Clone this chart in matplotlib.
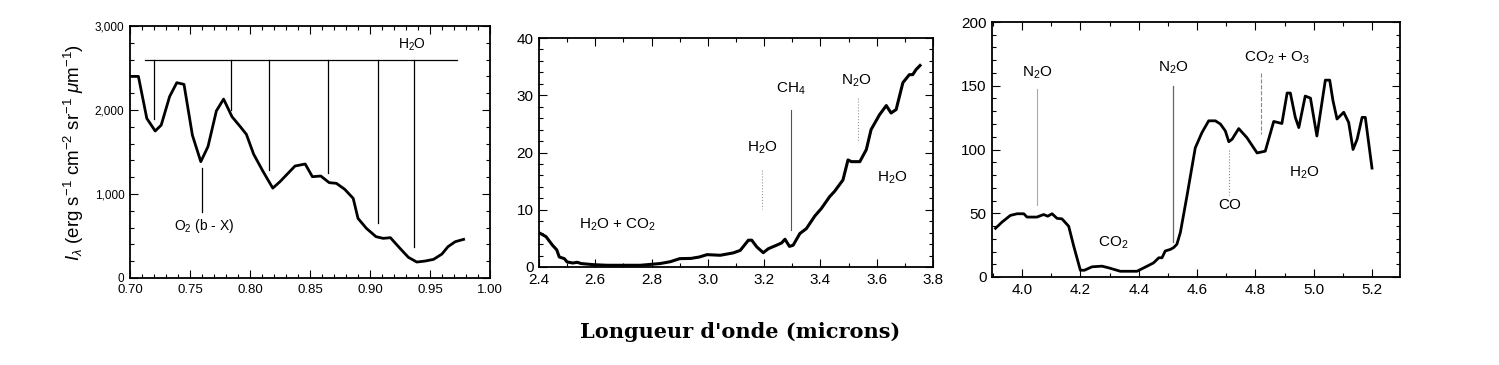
import matplotlib
matplotlib.use("Agg")
import matplotlib.pyplot as plt
from matplotlib.ticker import MultipleLocator, FuncFormatter

plt.rcParams['font.family'] = ['Liberation Sans', 'DejaVu Sans']
plt.rcParams['mathtext.fontset'] = 'custom'
plt.rcParams['mathtext.rm'] = 'Liberation Sans'
plt.rcParams['mathtext.it'] = 'Liberation Sans:italic'

# ---------------- Panel 1: 0.70 - 1.00 micron ----------------
wl1 = [0.700, 0.707, 0.714, 0.721, 0.726, 0.733, 0.739, 0.745, 0.752, 0.759,
       0.765, 0.772, 0.778, 0.785, 0.792, 0.797, 0.803, 0.811, 0.819, 0.825,
       0.8375, 0.846, 0.852, 0.859, 0.866, 0.872, 0.879, 0.886, 0.890, 0.897,
       0.905, 0.911, 0.917, 0.925, 0.932, 0.939, 0.946, 0.953, 0.960, 0.965,
       0.971, 0.978]
I1 = [2400, 2400, 1900, 1750, 1820, 2160, 2325, 2305, 1700, 1385,
      1565, 1990, 2130, 1920, 1800, 1710, 1475, 1265, 1070, 1147,
      1333, 1357, 1206, 1214, 1135, 1127, 1055, 948, 710, 591,
      492, 472, 480, 353, 246, 190, 202, 222, 286, 373,
      432, 460]
h2o_bar_y = 2600
h2o_bar_x = [0.7125, 0.9722]
h2o_lines_x = [0.720, 0.7844, 0.816, 0.8653, 0.9064, 0.9369]
h2o_lines_bottom = [1890, 2000, 1286, 1246, 660, 365]
o2_line_x = 0.7603
o2_line_y = [1305, 790]

# ---------------- Panel 2: 2.4 - 3.8 micron ----------------
wl2 = [2.405, 2.425, 2.448, 2.463, 2.472, 2.49, 2.50, 2.52, 2.536, 2.55,
       2.595, 2.643, 2.714, 2.76, 2.83, 2.867, 2.90, 2.94, 2.97, 2.997,
       3.044, 3.09, 3.115, 3.144, 3.156, 3.174, 3.197, 3.215, 3.244, 3.262,
       3.274, 3.29, 3.303, 3.327, 3.35, 3.38, 3.403, 3.433, 3.45, 3.48,
       3.498, 3.51, 3.54, 3.563, 3.58, 3.61, 3.634, 3.651, 3.669, 3.693,
       3.716, 3.728, 3.74, 3.754]
I2 = [5.85, 5.3, 3.8, 3.0, 1.75, 1.46, 0.88, 0.7, 0.82, 0.6,
      0.4, 0.3, 0.3, 0.3, 0.6, 0.93, 1.46, 1.5, 1.75, 2.16,
      2.05, 2.46, 2.9, 4.68, 4.68, 3.5, 2.5, 3.2, 3.8, 4.2,
      4.85, 3.6, 3.8, 5.85, 6.7, 8.9, 10.2, 12.3, 13.2, 15.2,
      18.7, 18.4, 18.4, 20.5, 24.0, 26.6, 28.2, 26.9, 27.5, 32.2,
      33.6, 33.6, 34.5, 35.2]

# ---------------- Panel 3: 3.9 - 5.3 micron ----------------
wl3 = [3.909, 3.931, 3.960, 3.983, 4.006, 4.017, 4.051, 4.074, 4.088, 4.103,
       4.120, 4.137, 4.160, 4.177, 4.200, 4.214, 4.240, 4.274, 4.297, 4.337,
       4.394, 4.429, 4.451, 4.469, 4.480, 4.491, 4.509, 4.520, 4.531, 4.543,
       4.566, 4.594, 4.617, 4.640, 4.663, 4.680, 4.697, 4.709, 4.720, 4.743,
       4.771, 4.806, 4.834, 4.863, 4.891, 4.909, 4.920, 4.937, 4.949, 4.971,
       4.989, 5.011, 5.040, 5.055, 5.066, 5.080, 5.103, 5.120, 5.135, 5.149,
       5.166, 5.177, 5.200]
I3 = [38.2, 43, 48.3, 49.6, 49.6, 47, 47, 49, 47.7, 49.6,
      46, 45.6, 39.8, 24.4, 5.3, 5.3, 8, 8.5, 7.2, 4.5,
      4.5, 8.5, 11.1, 15.1, 15.1, 20.4, 21.7, 23.1, 25.7, 35,
      64.2, 101.3, 113.3, 122.5, 122.5, 120, 114.6, 106.1, 108, 116.4,
      109.3, 97.3, 98.7, 122, 120.4, 144.3, 144.3, 125.2, 117.2, 141.9,
      140.3, 110.6, 154.4, 154.4, 138.5, 123.9, 129.2, 121.2, 100, 108,
      125.2, 125.2, 85.4]

W, H = 1499, 365
fig = plt.figure(figsize=(W / 100, H / 100), dpi=100)

def px_axes(l, t, r, b):
    return fig.add_axes([l / W, 1 - b / H, (r - l) / W, (b - t) / H])

def style(ax, xmaj, xmin, ymaj, ymin, lsize):
    ax.xaxis.set_major_locator(MultipleLocator(xmaj))
    ax.xaxis.set_minor_locator(MultipleLocator(xmin))
    ax.yaxis.set_major_locator(MultipleLocator(ymaj))
    ax.yaxis.set_minor_locator(MultipleLocator(ymin))
    ax.tick_params(which='both', direction='in', top=True, right=True,
                   labelsize=lsize, width=0.8, pad=4)
    ax.tick_params(which='major', length=6)
    ax.tick_params(which='minor', length=3)
    for s in ax.spines.values():
        s.set_linewidth(1.3)

# Panel 1
ax1 = px_axes(130, 26, 490, 278)
ax1.plot(wl1, I1, color='black', lw=2.0)
ax1.set_xlim(0.70, 1.00)
ax1.set_ylim(0, 3000)
style(ax1, 0.05, 0.01, 1000, 200, 9.5)
ax1.tick_params(axis='y', labelsize=8.5)
ax1.xaxis.set_major_formatter(FuncFormatter(lambda v, p: f"{v:.2f}"))
ax1.yaxis.set_major_formatter(FuncFormatter(lambda v, p: f"{int(v):,}"))
ax1.plot(h2o_bar_x, [h2o_bar_y, h2o_bar_y], color='black', lw=0.9)
for x, yb in zip(h2o_lines_x, h2o_lines_bottom):
    ax1.plot([x, x], [h2o_bar_y, yb], color='black', lw=0.9)
ax1.text(0.935, 2680, 'H$_2$O', fontsize=10, ha='center', va='bottom')
ax1.plot([o2_line_x, o2_line_x], o2_line_y, color='black', lw=0.9)
ax1.text(0.7617, 620, 'O$_2$ (b - X)', fontsize=10, ha='center', va='center')
ax1.set_ylabel(r'$I_\lambda$ (erg s$^{-1}$ cm$^{-2}$ sr$^{-1}$ $\mu$m$^{-1}$)',
               fontsize=13.5, labelpad=6)

# Panel 2
ax2 = px_axes(539, 38, 933, 267)
ax2.plot(wl2, I2, color='black', lw=2.2)
ax2.set_xlim(2.4, 3.8)
ax2.set_ylim(0, 40)
style(ax2, 0.2, 0.1, 10, 2, 11)
ax2.xaxis.set_major_formatter(FuncFormatter(lambda v, p: f"{v:.1f}"))
ax2.plot([3.191, 3.191], [17.0, 10.2], color='#999999', lw=0.8, ls=':')
ax2.text(3.195, 20.8, 'H$_2$O', fontsize=11, ha='center', va='center')
ax2.plot([3.295, 3.295], [27.5, 6.4], color='#555555', lw=0.8)
ax2.text(3.295, 31.1, 'CH$_4$', fontsize=11, ha='center', va='center')
ax2.plot([3.533, 3.533], [29.5, 21.9], color='#999999', lw=0.8, ls=':')
ax2.text(3.527, 32.6, 'N$_2$O', fontsize=11, ha='center', va='center')
ax2.text(3.657, 15.5, 'H$_2$O', fontsize=11, ha='center', va='center')
ax2.text(2.678, 7.3, 'H$_2$O + CO$_2$', fontsize=11, ha='center', va='center')

# Panel 3
ax3 = px_axes(992, 22, 1400, 277)
ax3.plot(wl3, I3, color='black', lw=2.0)
ax3.set_xlim(3.897, 5.296)
ax3.set_ylim(0, 200)
style(ax3, 0.2, 0.1, 50, 10, 11)
ax3.xaxis.set_major_formatter(FuncFormatter(lambda v, p: f"{v:.1f}"))
ax3.plot([4.051, 4.051], [147.7, 56.2], color='#aaaaaa', lw=0.8)
ax3.text(4.051, 160, 'N$_2$O', fontsize=11, ha='center', va='center')
ax3.text(4.314, 27, 'CO$_2$', fontsize=11, ha='center', va='center')
ax3.plot([4.518, 4.518], [149.6, 27.6], color='#666666', lw=0.9)
ax3.text(4.518, 163.7, 'N$_2$O', fontsize=11, ha='center', va='center')
ax3.plot([4.819, 4.819], [159.7, 112], color='#888888', lw=0.8, ls='--')
ax3.text(4.874, 171.6, 'CO$_2$ + O$_3$', fontsize=11, ha='center', va='center')
ax3.plot([4.71, 4.71], [100, 64], color='#888888', lw=0.8, ls=':')
ax3.text(4.712, 56.2, 'CO', fontsize=11, ha='center', va='center')
ax3.text(4.969, 81.4, 'H$_2$O', fontsize=11, ha='center', va='center')

fig.text(740 / W, 1 - 332 / H, "Longueur d'onde (microns)", fontsize=15,
         fontweight='bold', family=['DejaVu Serif'],
         ha='center', va='center')

fig.savefig('out.png', dpi=100)
